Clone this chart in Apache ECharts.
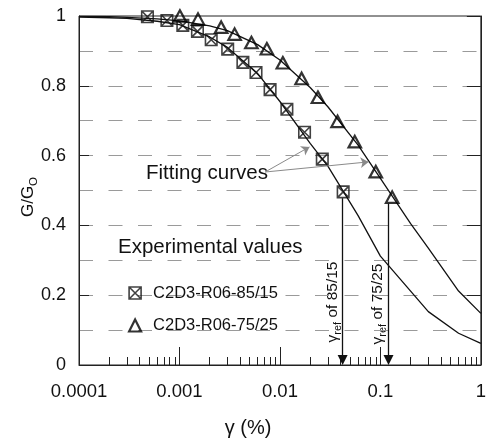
<!DOCTYPE html>
<html><head><meta charset="utf-8">
<script src="https://cdn.jsdelivr.net/npm/echarts@6/dist/echarts.min.js"></script>
<style>html,body{margin:0;padding:0;background:#fff}#c{width:489px;height:440px}</style>
</head><body><div id="c"></div>
<script>
// Experimental values
const exp85Gamma = [0.00048, 0.00075, 0.00108, 0.00151, 0.00207, 0.00302, 0.00428, 0.00578, 0.00798, 0.01173, 0.01758, 0.0264, 0.0426];
const exp85G     = [0.998, 0.987, 0.973, 0.956, 0.932, 0.905, 0.867, 0.838, 0.789, 0.733, 0.667, 0.590, 0.496];
const exp75Gamma = [0.00101, 0.00153, 0.0026, 0.00354, 0.0052, 0.00741, 0.01069, 0.01644, 0.0239, 0.0375, 0.0556, 0.090, 0.131];
const exp75G     = [1.0, 0.991, 0.968, 0.948, 0.924, 0.906, 0.866, 0.821, 0.767, 0.698, 0.640, 0.554, 0.481];
// Fitting curves
const fit85Gamma = [0.0001, 0.0002, 0.0003, 0.0006, 0.001, 0.002, 0.003, 0.006, 0.01, 0.02, 0.03, 0.06, 0.1, 0.3, 0.6, 1];
const fit85G     = [0.997, 0.995, 0.993, 0.985, 0.975, 0.94, 0.91, 0.835, 0.755, 0.635, 0.57, 0.428, 0.312, 0.153, 0.091, 0.062];
const fit75Gamma = [0.0001, 0.0002, 0.0003, 0.0006, 0.001, 0.002, 0.003, 0.006, 0.01, 0.02, 0.03, 0.06, 0.1, 0.2, 0.3, 0.6, 1];
const fit75G     = [0.999, 0.998, 0.996, 0.992, 0.986, 0.972, 0.958, 0.918, 0.874, 0.795, 0.74, 0.63, 0.535, 0.405, 0.335, 0.212, 0.148];
// Reference strains
const gammaRef85 = 0.0421;
const gammaRef75 = 0.1205;
const refArrowTop85 = 0.478;
const refArrowTop75 = 0.463;
// Tick values / labels
const xTickValues = [0.0001, 0.001, 0.01, 0.1, 1];
const xTickLabels = ['0.0001', '0.001', '0.01', '0.1', '1'];
const xMinorTicks = [0.0002,0.0003,0.0004,0.0005,0.0006,0.0007,0.0008,0.0009,
                     0.002,0.003,0.004,0.005,0.006,0.007,0.008,0.009,
                     0.02,0.03,0.04,0.05,0.06,0.07,0.08,0.09,
                     0.2,0.3,0.4,0.5,0.6,0.7,0.8,0.9];
const yTickValues = [0, 0.2, 0.4, 0.6, 0.8, 1];
const yTickLabels = ['0', '0.2', '0.4', '0.6', '0.8', '1'];
// Fitting-curve pointer arrows (tail at text, head on curves)
const pointerTail = [0.00713, 0.553];
const pointerHead85 = [0.0197, 0.625];
const pointerHead75 = [0.0762, 0.582];

const FONT = '"Liberation Sans", Arial, Helvetica, sans-serif';
const pairs = (xs, ys) => xs.map((x, i) => [x, ys[i]]);
const squareX = 'path://M0,0H10V10H0Z M0,0L10,10 M10,0L0,10';

function xLabel(v) {
  for (let i = 0; i < xTickValues.length; i++) {
    if (Math.abs(Math.log10(v) - Math.log10(xTickValues[i])) < 1e-6) return xTickLabels[i];
  }
  return '';
}
function yLabel(v) {
  for (let i = 0; i < yTickValues.length; i++) {
    if (Math.abs(v - yTickValues[i]) < 1e-6) return yTickLabels[i];
  }
  return '';
}

const chart = echarts.init(document.getElementById('c'));
const option = {
  animation: false,
  backgroundColor: '#fff',
  grid: { left: 79, right: 2, top: 16, bottom: 75, show: true, borderColor: '#222', borderWidth: 1, backgroundColor: 'transparent' },
  xAxis: [
    { type: 'log', logBase: 10, min: 0.0001, max: 1, position: 'bottom',
      axisLine: { show: true, onZero: false, lineStyle: { color: '#222', width: 1 } },
      axisTick: { show: true, inside: true, length: 18, lineStyle: { color: '#222' } },
      axisLabel: { show: true, margin: 17, fontSize: 18.5, fontFamily: FONT, color: '#111', formatter: xLabel },
      splitLine: { show: false } },
    { type: 'log', logBase: 10, min: 0.0001, max: 1, position: 'bottom',
      axisLine: { show: false, onZero: false },
      axisTick: { show: true, inside: true, length: 8, customValues: xMinorTicks, lineStyle: { color: '#222' } },
      axisLabel: { show: false },
      splitLine: { show: false } }
  ],
  yAxis: [
    { type: 'value', min: 0, max: 1, interval: 0.2, position: 'left',
      axisLine: { show: true, onZero: false, lineStyle: { color: '#222' } },
      axisTick: { show: true, inside: true, length: 10, lineStyle: { color: '#222' } },
      axisLabel: { margin: 13, fontSize: 18, fontFamily: FONT, color: '#111', formatter: yLabel },
      splitLine: { show: false } },
    { type: 'value', min: 0, max: 1, interval: 0.2, position: 'right',
      axisLine: { show: true, onZero: false, lineStyle: { color: '#222' } },
      axisTick: { show: true, inside: true, length: 14, lineStyle: { color: '#222' } },
      axisLabel: { show: false },
      splitLine: { show: false } },
    { type: 'value', min: 0, max: 1, interval: 0.1, position: 'left',
      axisLine: { show: false }, axisTick: { show: false }, axisLabel: { show: false },
      splitLine: { show: true, showMinLine: false, showMaxLine: false,
        lineStyle: { color: '#9a9a9a', width: 1.2, type: [14, 15.5] } } }
  ],
  legend: {
    orient: 'vertical', left: 123, top: 279, itemWidth: 12, itemHeight: 12, itemGap: 14.5,
    textStyle: { fontSize: 16.5, fontFamily: FONT, color: '#111', lineHeight: 18, padding: [0, 0, 0, 7] },
    itemStyle: { color: 'rgba(255,255,255,0)', borderColor: '#111', borderWidth: 1.6 },
    selectedMode: false,
    data: [
      { name: 'C2D3-R06-85/15', icon: squareX },
      { name: 'C2D3-R06-75/25', icon: 'triangle', itemStyle: { color: 'rgba(255,255,255,0)', borderColor: '#000', borderWidth: 2.2 } }
    ]
  },
  series: [
    { type: 'line', name: 'fit85', data: pairs(fit85Gamma, fit85G), xAxisIndex: 0, yAxisIndex: 0,
      symbol: 'none', smooth: false, silent: true, lineStyle: { color: '#111', width: 1.3 }, z: 2,
      markLine: {
        silent: true, animation: false, label: { show: false },
        lineStyle: { color: '#111', width: 1.3, type: 'solid' },
        data: [
          [ { coord: [gammaRef85, refArrowTop85], symbol: 'none' }, { coord: [gammaRef85, 0.014], symbol: 'triangle', symbolSize: 10 } ],
          [ { coord: [gammaRef75, refArrowTop75], symbol: 'none' }, { coord: [gammaRef75, 0.014], symbol: 'triangle', symbolSize: 10 } ]
        ]
      } },
    { type: 'line', name: 'fit75', data: pairs(fit75Gamma, fit75G), xAxisIndex: 0, yAxisIndex: 0,
      symbol: 'none', smooth: false, silent: true, lineStyle: { color: '#111', width: 1.3 }, z: 2,
      markLine: {
        silent: true, animation: false, label: { show: false },
        lineStyle: { color: '#8a8a8a', width: 1, type: 'solid' },
        symbol: ['none', 'arrow'], symbolSize: 8,
        data: [
          [ { coord: pointerTail }, { coord: pointerHead85 } ],
          [ { coord: pointerTail }, { coord: pointerHead75 } ]
        ]
      } },
    { type: 'scatter', name: 'C2D3-R06-85/15', data: pairs(exp85Gamma, exp85G), xAxisIndex: 0, yAxisIndex: 0,
      symbol: squareX, symbolSize: 11.5, z: 3,
      itemStyle: { color: 'rgba(255,255,255,0)', borderColor: '#111', borderWidth: 1.6 } },
    { type: 'scatter', name: 'C2D3-R06-75/25', data: pairs(exp75Gamma, exp75G), xAxisIndex: 0, yAxisIndex: 0,
      symbol: 'triangle', symbolSize: [12.5, 11.5], z: 3,
      itemStyle: { color: 'rgba(255,255,255,0)', borderColor: '#000', borderWidth: 2.2 } }
  ],
  graphic: [
    { type: 'text', x: 146, y: 173, silent: true,
      style: { text: 'Fitting curves', fontSize: 20.5, fontFamily: FONT, fill: '#111', align: 'left', verticalAlign: 'middle' } },
    { type: 'text', x: 118, y: 247, silent: true,
      style: { text: 'Experimental values', fontSize: 20.5, fontFamily: FONT, fill: '#111', align: 'left', verticalAlign: 'middle' } },
    { type: 'text', x: 248, y: 428, silent: true,
      style: { text: 'γ (%)', fontSize: 20, fontFamily: FONT, fill: '#111', align: 'center', verticalAlign: 'middle' } },
    { type: 'text', x: 30, y: 197, rotation: Math.PI / 2, silent: true,
      style: { text: '{m|G/G}{s|O}', align: 'center', verticalAlign: 'middle', fill: '#111',
        rich: { m: { fontSize: 17, fontFamily: FONT, lineHeight: 20, verticalAlign: 'top', fill: '#111' },
                s: { fontSize: 11.5, fontFamily: FONT, lineHeight: 14, verticalAlign: 'top', padding: [8, 0, 0, 0], fill: '#111' } } } },
    { type: 'text', x: 334, y: 302, rotation: Math.PI / 2, silent: true,
      style: { text: '{m|γ}{s|ref}{m| of 85/15}', align: 'center', verticalAlign: 'middle', fill: '#111',
        rich: { m: { fontSize: 15.5, fontFamily: FONT, lineHeight: 18, verticalAlign: 'top', fill: '#111' },
                s: { fontSize: 11, fontFamily: FONT, lineHeight: 13, verticalAlign: 'top', padding: [7, 0, 0, 0], fill: '#111' } } } },
    { type: 'text', x: 379, y: 304, rotation: Math.PI / 2, silent: true,
      style: { text: '{m|γ}{s|ref}{m| of 75/25}', align: 'center', verticalAlign: 'middle', fill: '#111',
        rich: { m: { fontSize: 15.5, fontFamily: FONT, lineHeight: 18, verticalAlign: 'top', fill: '#111' },
                s: { fontSize: 11, fontFamily: FONT, lineHeight: 13, verticalAlign: 'top', padding: [7, 0, 0, 0], fill: '#111' } } } }
  ]
};
chart.setOption(option);
</script>
</body></html>
